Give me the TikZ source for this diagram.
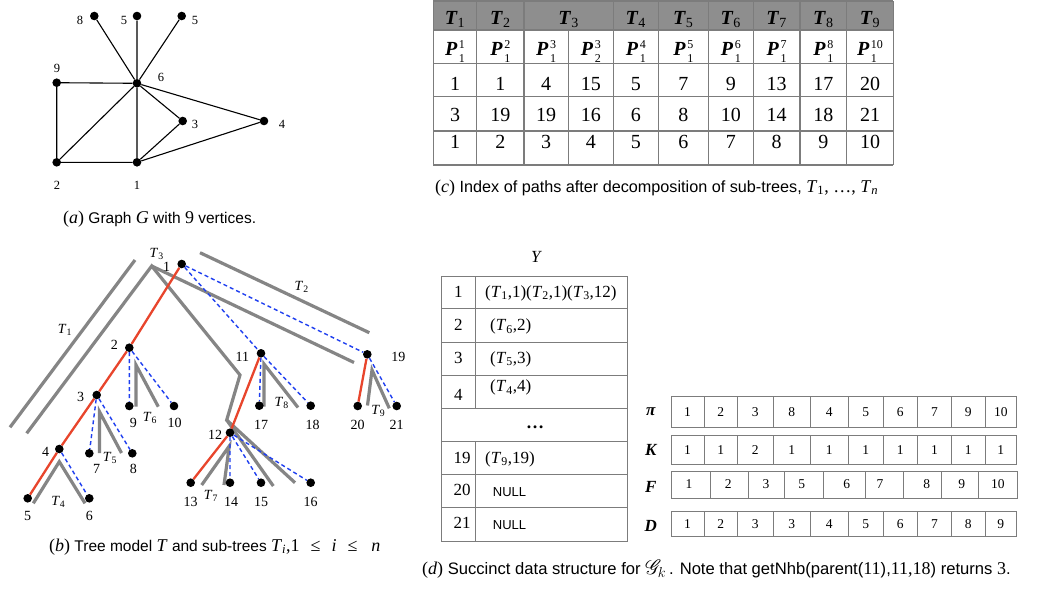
\documentclass[tikz,border=0pt]{standalone}
\usepackage{fontspec}
\usepackage{mathrsfs}
\setmainfont{Liberation Serif}
\setsansfont{Liberation Sans}
\definecolor{tred}{HTML}{E8452C}
\definecolor{tblue}{HTML}{1F3FF0}
\definecolor{tgray}{HTML}{858585}
\definecolor{hdr}{HTML}{8E8E8E}
\definecolor{gridc}{HTML}{7C7C7C}
\newcommand\fs[1]{\fontsize{#1}{#1}\selectfont}
\newcommand\Ts[1]{\textit{T}\textsubscript{#1}}
\newcommand\Tb[1]{\textbf{\textit{T}}\textsubscript{#1}}
\newcommand\Pss[2]{\textbf{\textit{P}}\kern0.08em{\fs{12}\rlap{\raisebox{-6.8pt}{#2}}\raisebox{6.8pt}{#1}}}
\newcommand\mth[1]{{\rmfamily\fs{18}#1}}
\begin{document}
\begin{tikzpicture}[x=1pt,y=-1pt,
  dot/.style={circle,fill=black,inner sep=0pt,minimum size=8.6pt},
  gedge/.style={line width=1.1pt},
  gl/.style={line width=3.2pt,draw=tgray},
  rl/.style={line width=2.3pt,draw=tred},
  bl/.style={line width=1.4pt,draw=tblue,dash pattern=on 4pt off 3pt},
  lab/.style={inner sep=0pt,font=\fs{12.5}},
  tl/.style={inner sep=0pt,font=\fs{14}},
  tline/.style={line width=1.1pt,draw=gridc},
  hd/.style={inner sep=0pt,font=\fs{20}},
  cc/.style={inner sep=0pt,font=\fs{20}},
  yline/.style={line width=1pt,draw=gridc},
  yt/.style={inner sep=0pt,font=\fs{17}},
  nl/.style={inner sep=0pt,font=\sffamily\fs{13}},
  aline/.style={line width=1pt,draw=gridc},
  acell/.style={inner sep=0pt,font=\fs{13.5}},
  albl/.style={inner sep=0pt,font=\bfseries\itshape\fs{17}},
  captxt/.style={inner sep=0pt,font=\sffamily\fs{15.5}}]
\useasboundingbox (0,0) rectangle (1042,590);
\fill[white] (0,0) rectangle (1042,590);

% ---------------- (a) graph ----------------
\node[dot] (a8) at (94.3,16) {};
\node[dot] (a5m) at (137,16) {};
\node[dot] (a5r) at (181.7,16) {};
\node[dot] (a6) at (137,83.3) {};
\node[dot] (a9) at (56.7,82.7) {};
\node[dot] (a3) at (182.7,121) {};
\node[dot] (a4) at (264,121) {};
\node[dot] (a2) at (56.7,162.3) {};
\node[dot] (a1) at (137,162.3) {};
\draw[gedge] (a6)--(a8) (a6)--(a5m) (a6)--(a5r) (a6)--(a9) (a6)--(a2) (a6)--(a1)
  (a6)--(a3) (a6)--(a4) (a9)--(a2) (a2)--(a1) (a1)--(a3) (a1)--(a4);
\node[lab] (la8) at (80,20) {8};
\node[lab] (la5m) at (124,20) {5};
\node[lab] (la5r) at (195,20) {5};
\node[lab] (la9) at (57,68) {9};
\node[lab] (la6) at (161,77) {6};
\node[lab] (la3) at (195,124) {3};
\node[lab] (la4) at (282,124) {4};
\node[lab] (la2) at (57,185) {2};
\node[lab] (la1) at (137,185) {1};
\node[captxt,anchor=base west] (capa) at (63,223) {\mth{(\textit{a})} Graph \mth{\textit{G}} with \mth{9} vertices.};

% ---------------- (b) tree ----------------
\draw[gl] (135,260) -- (10,427.3);
\draw[gl] (26.7,433.3) -- (151.7,266) -- (240,375) -- (226.7,420) -- (295,482.7);
\draw[gl] (226.7,420) -- (273.3,486);
\draw[gl] (151.7,266) -- (354,362.5);
\draw[gl] (200,252.7) -- (369.3,332.7);
\draw[gl] (33.3,503.3) -- (59.3,461.7) -- (85,503.3);
\draw[gl] (99.5,453) -- (99.5,411.7) -- (121.5,453);
\draw[gl] (136,406.7) -- (136,365) -- (158.3,406.7);
\draw[gl] (201.7,485) -- (229.3,446) -- (224,485);
\draw[gl] (264,406.7) -- (264,364) -- (298,407.5);
\draw[gl] (367.5,405.5) -- (372,370) -- (389.3,408.3);

\node[dot] (t1) at (181.7,264) {};
\node[dot] (t2) at (129.3,347.7) {};
\node[dot] (t3) at (96.7,395) {};
\node[dot] (t4) at (59.3,449) {};
\node[dot] (t5) at (27.7,498.3) {};
\node[dot] (t6) at (89.3,498.3) {};
\node[dot] (t7) at (89.3,453.3) {};
\node[dot] (t8) at (132.3,453.3) {};
\node[dot] (t9) at (129.3,406) {};
\node[dot] (t10) at (174,406) {};
\node[dot] (t11) at (261,353.3) {};
\node[dot] (t12) at (230,432.7) {};
\node[dot] (t13) at (190.7,482.7) {};
\node[dot] (t14) at (230,482.7) {};
\node[dot] (t15) at (261,482.7) {};
\node[dot] (t16) at (310.7,482.7) {};
\node[dot] (t17) at (259.3,405.7) {};
\node[dot] (t18) at (310.7,405.7) {};
\node[dot] (t19) at (367.3,354.3) {};
\node[dot] (t20) at (357.7,406) {};
\node[dot] (t21) at (396.7,406) {};

\draw[bl] (t1)--(t11) (t1)--(t19) (t2)--(t9) (t2)--(t10) (t3)--(t7) (t3)--(t8)
  (t4)--(t6) (t11)--(t17) (t11)--(t18) (t12)--(t14) (t12)--(t15) (t12)--(t16) (t19)--(t21);
\draw[rl] (t1)--(t2)--(t3)--(t4)--(t5);
\draw[rl] (t11)--(t12)--(t13);
\draw[rl] (t19)--(t20);

\node[tl] (lt1) at (166.7,266.7) {1};
\node[tl] (lt2) at (114.3,345.3) {2};
\node[tl] (lt3) at (80.7,396.7) {3};
\node[tl] (lt4) at (45.7,451.7) {4};
\node[tl] (lt5) at (27.7,516) {5};
\node[tl] (lt6) at (89.3,516) {6};
\node[tl] (lt7) at (96.7,468.7) {7};
\node[tl] (lt8) at (133.3,468.7) {8};
\node[tl] (lt9) at (133.3,423.3) {9};
\node[tl] (lt10) at (174.7,423.3) {10};
\node[tl] (lt11) at (242.3,356.7) {11};
\node[tl] (lt12) at (215,435) {12};
\node[tl] (lt13) at (190.7,501.7) {13};
\node[tl] (lt14) at (231,501.7) {14};
\node[tl] (lt15) at (261,501.7) {15};
\node[tl] (lt16) at (310.7,501.7) {16};
\node[tl] (lt17) at (261,425) {17};
\node[tl] (lt18) at (312.7,425) {18};
\node[tl] (lt19) at (398.3,357.3) {19};
\node[tl] (lt20) at (357.7,425) {20};
\node[tl] (lt21) at (396.7,425) {21};
\node[tl] (lT1) at (65,330) {\Ts{1}};
\node[tl] (lT2) at (301.7,286.7) {\Ts{2}};
\node[tl] (lT3) at (156.7,254) {\Ts{3}};
\node[tl] (lT4) at (58.3,501.7) {\Ts{4}};
\node[tl] (lT5) at (110,458.3) {\Ts{5}};
\node[tl] (lT6) at (150,418.3) {\Ts{6}};
\node[tl] (lT7) at (211,496) {\Ts{7}};
\node[tl] (lT8) at (281.7,403.3) {\Ts{8}};
\node[tl] (lT9) at (378.3,410.7) {\Ts{9}};
\node[captxt,anchor=base west] (capb) at (49,551) {\mth{(\textit{b})} Tree model \mth{\textit{T}} and sub-trees \mth{\Ts{\textit{i}},1\hspace{11pt}≤\hspace{11pt}\textit{i}\hspace{11pt}≤\hspace{14pt}\textit{n}}};

% ---------------- (c) table ----------------
\fill[hdr] (433.3,1) rectangle (893.3,30);
\foreach \yy in {1,30,63.3,96.7,131,165} \draw[tline] (433.3,\yy) -- (893.3,\yy);
\foreach \xx in {433.3,476.7,524,613.3,658.3,708.3,753.3,800,846.7,893.3} \draw[tline] (\xx,1) -- (\xx,165);
\draw[tline] (568.3,30) -- (568.3,165);
\foreach \xx/\k in {455/1,500.35/2,568.65/3,635.8/4,683.3/5,730.8/6,776.65/7,823.35/8,870/9}
  \node[hd,anchor=base] (h\k) at (\xx,24) {\Tb{\k}};
\foreach \xx/\s/\u/\a/\b/\c [count=\i] in {455/1/1/1/3/1, 500.35/2/1/1/19/2, 546.15/3/1/4/19/3,
   590.8/3/2/15/16/4, 635.8/4/1/5/6/5, 683.3/5/1/7/8/6, 730.8/6/1/9/10/7, 776.65/7/1/13/14/8,
   823.35/8/1/17/18/9, 870/10/1/20/21/10} {
  \node[cc,anchor=base] (p\i) at (\xx,55.5) {\Pss{\s}{\u}};
  \node[cc,anchor=base] (ra\i) at (\xx,90.7) {\a};
  \node[cc,anchor=base] (rb\i) at (\xx,121.7) {\b};
  \node[cc,anchor=base] (rc\i) at (\xx,148.3) {\c};
}
\node[captxt,font=\sffamily\fs{16.2},anchor=base west] (capc) at (435,192) {\mth{(\textit{c})} Index of paths after decomposition of sub-trees, \mth{\Ts{1}, …, \Ts{\textit{n}}}};

% ---------------- (d) Y table ----------------
\node[yt] (ylab) at (536.7,256.7) {\textit{Y}};
\draw[yline] (441.7,276) rectangle (627.3,541);
\foreach \yy in {308.3,342.3,375,408.3,441.7,474.3,507.7} \draw[yline] (441.7,\yy) -- (627.3,\yy);
\draw[yline] (475.7,276) -- (475.7,408.3);
\draw[yline] (475.7,441.7) -- (475.7,541);
\node[yt,anchor=base] (yi1) at (458.3,297.3) {1};
\node[yt,anchor=base west] (yv1) at (485,297.3) {(\Ts{1},1)(\Ts{2},1)(\Ts{3},12)};
\node[yt,anchor=base] (yi2) at (458.3,330.7) {2};
\node[yt,anchor=base west] (yv2) at (490,330.7) {(\Ts{6},2)};
\node[yt,anchor=base] (yi3) at (458.3,363.3) {3};
\node[yt,anchor=base west] (yv3) at (490,363.3) {(\Ts{5},3)};
\node[yt,anchor=base] (yi4) at (458.3,400) {4};
\node[yt,anchor=base west] (yv4) at (490,391.7) {(\Ts{4},4)};
\node[yt,font=\bfseries\fs{18}] (ydots) at (535,427) {…};
\node[yt,anchor=base] (yi19) at (462,463.3) {19};
\node[yt,anchor=base west] (yv19) at (485,463.3) {(\Ts{9},19)};
\node[yt,anchor=base] (yi20) at (462,495) {20};
\node[nl,anchor=base west] (yv20) at (492.7,496.7) {NULL};
\node[yt,anchor=base] (yi21) at (462,528) {21};
\node[nl,anchor=base west] (yv21) at (492.7,529.3) {NULL};

% ---------------- (d) arrays ----------------
\node[albl] (lpi) at (650.7,411.7) {π};
\node[albl] (lK) at (650.7,450) {K};
\node[albl] (lF) at (650.7,486.7) {F};
\node[albl] (lD) at (650.7,526) {D};
\draw[aline] (671,396.7) rectangle (1016.7,427.7);
\foreach \xx in {704,737.3,773.3,810,848.3,883.3,917.3,951.7,985} \draw[aline] (\xx,396.7) -- (\xx,427.7);
\foreach \xx/\v [count=\i] in {687.5/1,720.65/2,755.3/3,791.65/8,829.15/4,865.8/5,900.3/6,934.5/7,968.35/9,1000.85/10}
  \node[acell] (pi\i) at (\xx,412.2) {\v};
\draw[aline] (671,435) rectangle (1016.7,464.3);
\foreach \xx in {704,737.3,773.3,810,848.3,883.3,917.3,951.7,985} \draw[aline] (\xx,435) -- (\xx,464.3);
\foreach \xx/\v [count=\i] in {687.5/1,720.65/1,755.3/2,791.65/1,829.15/1,865.8/1,900.3/1,934.5/1,968.35/1,1000.85/1}
  \node[acell] (k\i) at (\xx,449.7) {\v};
\draw[aline] (671.7,471) rectangle (1017.3,498);
\foreach \xx in {710.7,748.3,784,823.3,865,903.3,941.7,978.3} \draw[aline] (\xx,471) -- (\xx,498);
\foreach \xx/\v [count=\i] in {689/1,728.3/2,766/3,801.7/5,846.7/6,880/7,926.7/8,961.7/9,997.8/10}
  \node[acell] (f\i) at (\xx,484.5) {\v};
\draw[aline] (671,511.7) rectangle (1016.7,536);
\foreach \xx in {704,737.3,773.3,810,848.3,883.3,917.3,951.7,985} \draw[aline] (\xx,511.7) -- (\xx,536);
\foreach \xx/\v [count=\i] in {687.5/1,720.65/2,755.3/3,791.65/3,829.15/4,865.8/5,900.3/6,934.5/7,968.35/8,1000.85/9}
  \node[acell] (d\i) at (\xx,523.8) {\v};
\node[captxt,font=\sffamily\fs{16.6},anchor=base west] (capd) at (422,574) {\mth{(\textit{d})} Succinct data structure for {\fs{20}$\mathscr{G}_k$}\,. Note that getNhb(parent(\mth{11}),\mth{11,18}) returns \mth{3}.};
\end{tikzpicture}
\end{document}
